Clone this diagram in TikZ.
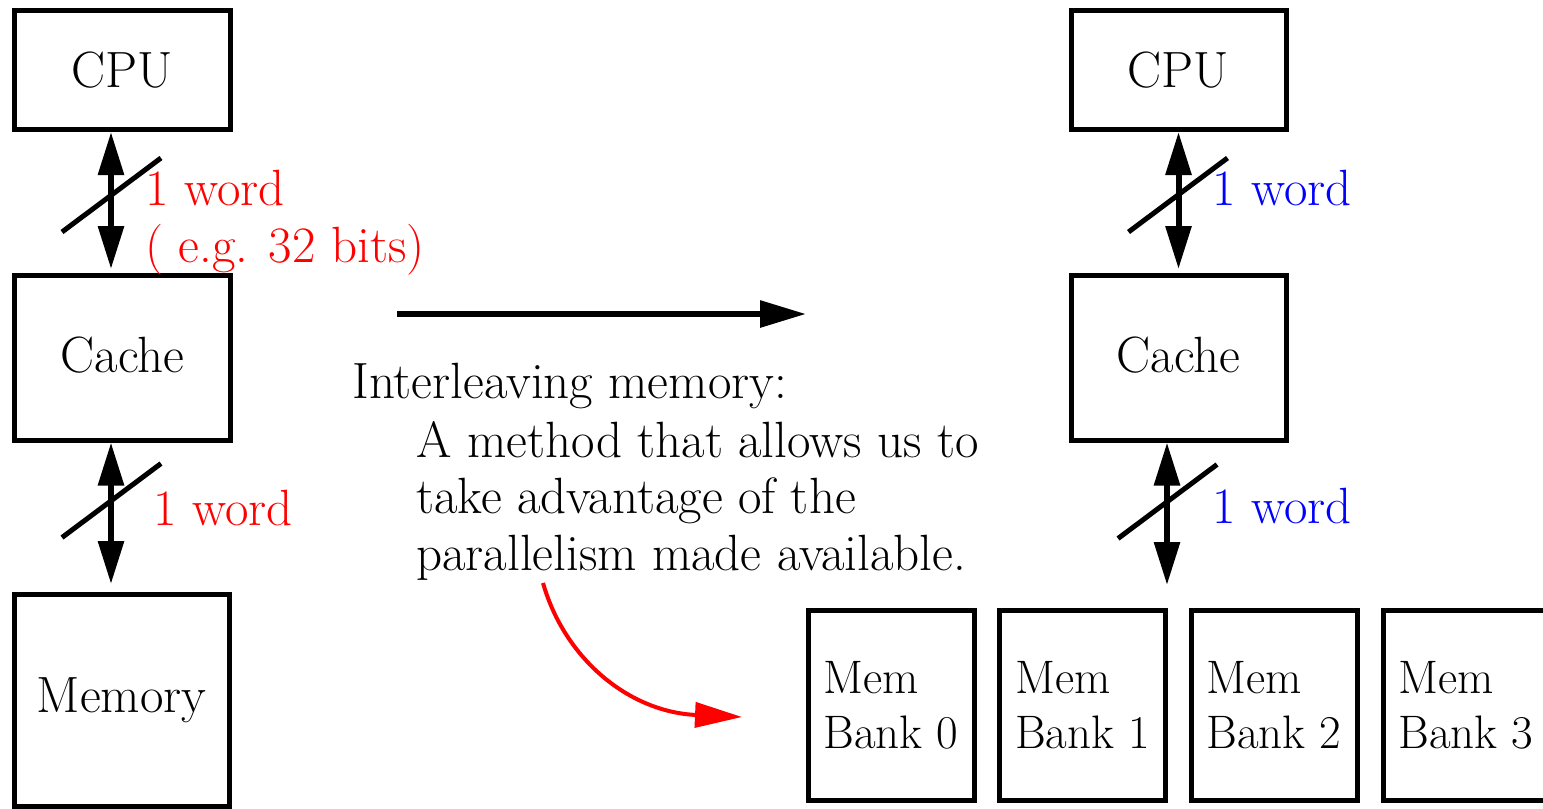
\documentclass[tikz,border=0pt]{standalone}
\usepackage{fontspec}
\usetikzlibrary{arrows.meta,calc}

\tikzset{
  txt/.style={font=\fontsize{25.5pt}{28.5pt}\selectfont, inner sep=0pt},
  box/.style={draw, line width=2.5pt, txt},
  bankbox/.style={draw, line width=2.5pt, inner sep=0pt, align=left,
    minimum width=83pt, minimum height=95pt,
    font=\fontsize{23.5pt}{27.5pt}\selectfont},
  bus/.style={line width=3pt, {Triangle[length=21.5pt,width=12.5pt]}-{Triangle[length=21.5pt,width=12.5pt]}},
  busslash/.pic={\draw[line width=2.5pt] (-49.5,37) -- (49.5,-37);},
  wordlabel/.style={txt, anchor=base west},
}

\begin{document}
\begin{tikzpicture}[x=0.5pt,y=-0.5pt]
\useasboundingbox (0,0) rectangle (1543,809);

% single-bank organisation
\node[box, minimum width=108pt, minimum height=59.75pt] (lcpu) at (122.5,69.75) {CPU};
\node[box, minimum width=108pt, minimum height=82.25pt] (lcache) at (122.5,357.75) {\raisebox{3pt}{Cache}};
\node[box, minimum width=107.75pt, minimum height=105.75pt] (lmem) at (121.75,700.25) {Memory};

\coordinate (lbus) at (111,0);
\draw[bus, shorten >=2pt] (lcpu.south -| lbus) -- (lcache.north -| lbus);
\draw[bus, shorten >=4pt] (lcache.south -| lbus) -- (lmem.north -| lbus);
\coordinate (s1) at (111.5,195);
\coordinate (s2) at (111.5,500.5);
\pic at (s1) {busslash};
\pic at (s2) {busslash};

\node[wordlabel, red] (w1) at (145,205) {1 word};
\node[wordlabel, red] (w1b) at (145,262) {( e.g. 32 bits)};
\node[wordlabel, red] (w2) at (153,525) {1 word};

% transition arrow and explanation
\coordinate (ha) at (397,314);
\coordinate (hb) at (806,314);
\draw[line width=3pt, -{Triangle[length=23pt,width=13pt]}] (ha) -- (hb);

\node[wordlabel] (ilhead) at (352,398) {Interleaving memory:};
\node[wordlabel] (il1) at (416,457) {A method that allows us to};
\node[wordlabel] (il2) at (416,513) {take advantage of the};
\node[wordlabel] (il3) at (416,570) {parallelism made available.};

\coordinate (ca) at (543,583);
\coordinate (cb) at (742,717);
\draw[red, line width=2pt, -{Triangle[length=23.5pt,width=12.5pt]}]
  (ca) .. controls +(22,77) and +(-112,-5) .. (cb);

% interleaved organisation
\node[box, minimum width=107.5pt, minimum height=59.75pt] (rcpu) at (1178.5,69.75) {CPU};
\node[box, minimum width=107.5pt, minimum height=82.25pt] (rcache) at (1178.5,357.75) {\raisebox{3pt}{Cache}};

\draw[bus, shorten >=2pt] (rcpu.south) -- (rcache.north);
\coordinate (rbus) at (1167,0);
\coordinate (bankbus) at (1167,585);
\draw[bus] (rcache.south -| rbus) -- (bankbus);
\coordinate (s3) at (1178,195);
\coordinate (s4) at (1167.5,501.5);
\pic at (s3) {busslash};
\pic at (s4) {busslash};

\node[wordlabel, blue] (w3) at (1212,205) {1 word};
\node[wordlabel, blue] (w4) at (1212,523) {1 word};

\node[bankbox] (b0) at (891,705) {Mem\\Bank 0};
\node[bankbox] (b1) at (1082.5,705) {Mem\\Bank 1};
\node[bankbox] (b2) at (1274,705) {Mem\\Bank 2};
\node[bankbox] (b3) at (1466,705) {Mem\\Bank 3};
\end{tikzpicture}
\end{document}
